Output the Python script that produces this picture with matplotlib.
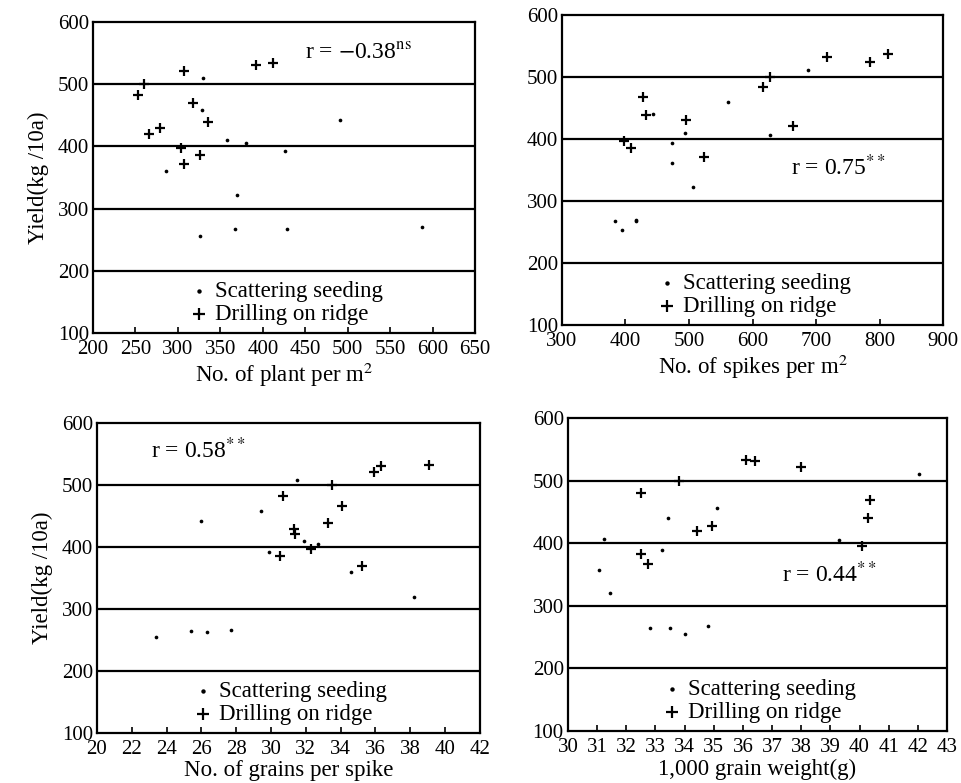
import matplotlib
matplotlib.use("Agg")
import matplotlib.pyplot as plt

plt.rcParams['font.family'] = ['Liberation Serif', 'DejaVu Serif']
plt.rcParams['mathtext.fontset'] = 'stix'

# ---- data ----
# No. of plant per m2
plant_scatter_x = [330, 328, 286, 358, 380, 491, 426, 370, 326, 367, 428, 588]
plant_scatter_y = [510, 459, 361, 410, 405, 443, 392, 322, 256, 267, 267, 270]
plant_drill_x = [253, 260, 266, 279, 307, 304, 307, 318, 326, 335, 392, 412]
plant_drill_y = [483, 501, 420, 430, 521, 397, 371, 469, 386, 440, 531, 534]

# No. of spikes per m2
spike_scatter_x = [443, 474, 473, 494, 507, 561, 627, 687, 383, 394, 416, 416]
spike_scatter_y = [441, 393, 362, 410, 323, 459, 407, 511, 267, 253, 267, 270]
spike_drill_x = [398, 409, 427, 433, 496, 524, 616, 628, 663, 717, 785, 814]
spike_drill_y = [397, 385, 467, 439, 430, 371, 484, 500, 421, 532, 524, 537]

# No. of grains per spike
grain_scatter_x = [31.5, 26.0, 29.4, 29.9, 31.9, 32.7, 34.6, 38.2, 23.4, 25.4, 26.3, 27.7]
grain_scatter_y = [508, 442, 458, 392, 409, 405, 359, 320, 254, 265, 263, 266]
grain_drill_x = [30.7, 30.5, 31.3, 31.4, 32.3, 33.3, 33.5, 34.1, 35.2, 35.9, 36.3, 39.1]
grain_drill_y = [483, 386, 429, 421, 396, 439, 500, 466, 370, 521, 531, 533]

# 1,000 grain weight
weight_scatter_x = [31.05, 31.24, 31.44, 33.24, 33.44, 35.1, 39.3, 42.05, 32.8, 33.5, 34.0, 34.8]
weight_scatter_y = [358, 407, 320, 389, 440, 457, 405, 511, 265, 265, 255, 268]
weight_drill_x = [32.5, 32.5, 32.75, 33.8, 34.43, 34.94, 36.1, 36.4, 37.99, 40.1, 40.28, 40.37]
weight_drill_y = [481, 382, 367, 500, 419, 428, 533, 531, 522, 396, 441, 469]

panels = [
    # rect, xlim, xticks, xlabel, r text, r pos, ylabel, data
    ([0.0968, 0.5747, 0.3975, 0.3972], (200, 650), list(range(200, 651, 50)),
     'No. of plant per m$^2$', r'r = $-$0.38$^{\mathrm{ns}}$', (0.555, 0.90), True,
     plant_scatter_x, plant_scatter_y, plant_drill_x, plant_drill_y),
    ([0.5848, 0.5849, 0.3965, 0.3959], (300, 900), list(range(300, 901, 100)),
     'No. of spikes per m$^2$', r'r = 0.75$^{**}$', (0.60, 0.51), False,
     spike_scatter_x, spike_scatter_y, spike_drill_x, spike_drill_y),
    ([0.1009, 0.0639, 0.3985, 0.3959], (20, 42), list(range(20, 43, 2)),
     'No. of grains per spike', r'r = 0.58$^{**}$', (0.14, 0.91), True,
     grain_scatter_x, grain_scatter_y, grain_drill_x, grain_drill_y),
    ([0.5910, 0.0664, 0.3944, 0.3997], (30, 43), list(range(30, 44, 1)),
     '1,000 grain weight(g)', r'r = 0.44$^{**}$', (0.565, 0.50), False,
     weight_scatter_x, weight_scatter_y, weight_drill_x, weight_drill_y),
]

fig = plt.figure(figsize=(9.61, 7.83), dpi=100)

for rect, xlim, xticks, xlabel, rtxt, rpos, ylab, sx, sy, dx, dy in panels:
    ax = fig.add_axes(rect)
    ax.set_xlim(*xlim)
    ax.set_ylim(100, 600)
    # horizontal reference lines
    for yv in [200, 300, 400, 500]:
        ax.axhline(yv, color='black', lw=1.6, zorder=1)
    ax.scatter(sx, sy, marker='o', s=7, color='black', linewidths=0,
               label='Scattering seeding', zorder=3)
    ax.scatter(dx, dy, marker='+', s=60, color='black', linewidths=1.6,
               label='Drilling on ridge', zorder=3)
    ax.set_xticks(xticks)
    ax.set_yticks([100, 200, 300, 400, 500, 600])
    ax.tick_params(axis='x', direction='in', length=4, width=1.2, labelsize=15, pad=5)
    ax.tick_params(axis='y', length=0, labelsize=15, pad=3)
    for lbl in ax.get_yticklabels():
        lbl.set_verticalalignment('center_baseline')
    for sp in ax.spines.values():
        sp.set_linewidth(1.6)
    ax.set_xlabel(xlabel, fontsize=16.5, labelpad=1)
    if ylab:
        ax.set_ylabel('Yield(kg /10a)', fontsize=16.5, labelpad=6)
    ax.text(rpos[0], rpos[1], rtxt, transform=ax.transAxes, fontsize=17,
            ha='left', va='center')
    leg = ax.legend(loc='lower center', bbox_to_anchor=(0.5, -0.01), frameon=False,
                    fontsize=16.5, handletextpad=0.1, labelspacing=0.05,
                    borderaxespad=0.1, markerscale=1.2, handlelength=1.2)

fig.savefig('out.png', dpi=100)
